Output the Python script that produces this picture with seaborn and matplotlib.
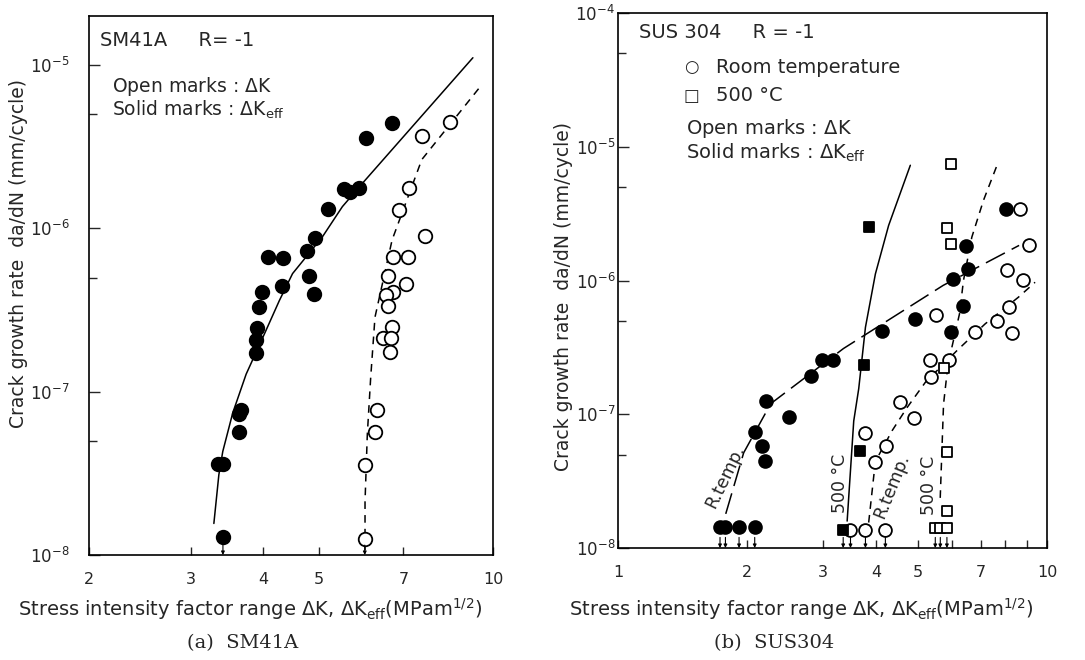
import numpy as np
import pandas as pd
import matplotlib
matplotlib.use("Agg")
import matplotlib.pyplot as plt
from matplotlib.ticker import FixedLocator, FixedFormatter, NullLocator, NullFormatter
import seaborn as sns

sns.set_style("ticks")
plt.rcParams['font.family'] = ['DejaVu Sans']
plt.rcParams['mathtext.fontset'] = 'dejavusans'

# ---------------- (a) SM41A ----------------
a_solid_dk = [6.69, 6.02, 5.53, 5.65, 5.86, 5.19, 4.92, 4.76, 4.08, 4.34, 4.80, 4.32,
              3.98, 4.91, 3.93, 3.91, 3.89, 3.89, 3.67, 3.63, 3.63, 3.35, 3.41, 3.41]
a_solid_rate = [4.45e-6, 3.59e-6, 1.74e-6, 1.66e-6, 1.78e-6, 1.31e-6, 8.8e-7, 7.3e-7,
                6.7e-7, 6.6e-7, 5.1e-7, 4.46e-7, 4.06e-7, 3.94e-7, 3.29e-7, 2.46e-7,
                2.08e-7, 1.72e-7, 7.7e-8, 7.3e-8, 5.7e-8, 3.6e-8, 3.6e-8, 1.28e-8]
a_open_dk = [8.41, 7.54, 7.17, 6.89, 7.64, 6.72, 7.12, 6.59, 7.06, 6.72, 6.54, 6.59,
             6.68, 6.45, 6.66, 6.63, 6.31, 6.25, 6.00, 6.00]
a_open_rate = [4.5e-6, 3.67e-6, 1.78e-6, 1.30e-6, 9.0e-7, 6.7e-7, 6.7e-7, 5.1e-7,
               4.59e-7, 4.07e-7, 3.93e-7, 3.37e-7, 2.48e-7, 2.12e-7, 2.12e-7, 1.74e-7,
               7.7e-8, 5.7e-8, 3.57e-8, 1.26e-8]
a_solid_arrow_dk = [3.41]
a_open_arrow_dk = [6.00]
# fitted curves
a_keff_curve_dk = [3.289, 3.355, 3.408, 3.546, 3.740, 4.023, 4.270, 4.500, 5.069, 5.488, 5.983, 9.23]
a_keff_curve_rate = [1.56e-8, 3.1e-8, 4.31e-8, 7.42e-8, 1.28e-7, 2.26e-7, 3.62e-7, 5.29e-7,
                     8.89e-7, 1.36e-6, 1.94e-6, 1.11e-5]
a_k_curve_dk = [6.006, 6.006, 6.061, 6.143, 6.249, 6.69, 7.53, 9.48]
a_k_curve_rate = [1.07e-8, 2.12e-8, 5.47e-8, 1.22e-7, 2.86e-7, 8.5e-7, 2.64e-6, 7.3e-6]
a_xticks = [2, 3, 4, 5, 7, 10]
a_xticklabels = ["2", "3", "4", "5", "7", "10"]

# ---------------- (b) SUS304 ----------------
b_rt_solid_dk = [1.729, 1.780, 1.915, 2.083, 2.083, 2.170, 2.197, 2.217, 2.502, 2.811,
                 2.992, 3.174, 4.127, 4.923, 5.970, 6.368, 6.035, 6.561, 6.480, 8.017]
b_rt_solid_rate = [1.44e-8, 1.44e-8, 1.44e-8, 1.44e-8, 7.39e-8, 5.81e-8, 4.48e-8, 1.26e-7,
                   9.6e-8, 1.94e-7, 2.55e-7, 2.55e-7, 4.17e-7, 5.16e-7, 4.1e-7, 6.5e-7,
                   1.02e-6, 1.22e-6, 1.80e-6, 3.44e-6]
b_rt_open_dk = [8.655, 9.096, 8.062, 8.780, 5.511, 8.174, 7.638, 6.80, 8.28, 5.346, 5.895,
                5.37, 4.539, 4.898, 3.759, 4.211, 3.981, 3.483, 3.774, 4.20]
b_rt_open_rate = [3.44e-6, 1.85e-6, 1.19e-6, 1.01e-6, 5.53e-7, 6.3e-7, 5.0e-7, 4.1e-7,
                  4.06e-7, 2.55e-7, 2.55e-7, 1.91e-7, 1.24e-7, 9.4e-8, 7.18e-8, 5.75e-8,
                  4.43e-8, 1.36e-8, 1.36e-8, 1.36e-8]
b_500_solid_dk = [3.840, 3.740, 3.674, 3.349]
b_500_solid_rate = [2.51e-6, 2.35e-7, 5.27e-8, 1.36e-8]
b_500_open_dk = [5.97, 5.844, 5.98, 5.761, 5.844, 5.844, 5.49, 5.64, 5.844]
b_500_open_rate = [7.48e-6, 2.48e-6, 1.88e-6, 2.2e-7, 5.18e-8, 1.89e-8, 1.40e-8, 1.40e-8, 1.40e-8]
b_arrow_dk = [1.729, 1.780, 1.915, 2.083, 3.349, 3.483, 3.774, 4.20, 5.49, 5.64, 5.844]
# curves
b_rt_keff_dk = [1.783, 1.963, 2.27, 3.354, 5.73, 8.61]
b_rt_keff_rate = [1.8e-8, 5.15e-8, 1.2e-7, 3.1e-7, 9.2e-7, 1.83e-6]
b_500_keff_dk = [3.421, 3.544, 3.640, 3.774, 3.981, 4.274, 4.802]
b_500_keff_rate = [1.59e-8, 8.9e-8, 1.55e-7, 4.47e-7, 1.12e-6, 2.58e-6, 7.27e-6]
b_rt_k_dk = [3.84, 3.98, 4.353, 4.717, 5.203, 6.166, 7.175, 8.577, 9.38]
b_rt_k_rate = [1.55e-8, 4.43e-8, 7.52e-8, 1.12e-7, 1.73e-7, 2.99e-7, 4.74e-7, 7.5e-7, 9.7e-7]
b_500_k_dk = [5.638, 5.739, 5.844, 6.002, 6.252, 6.387, 6.68, 7.11, 7.70]
b_500_k_rate = [2.37e-8, 1.19e-7, 2.0e-7, 3.17e-7, 5.63e-7, 1.0e-6, 2.11e-6, 3.97e-6, 7.7e-6]
b_xticks = [1, 2, 3, 4, 5, 7, 10]
b_xticklabels = ["1", "2", "3", "4", "5", "7", "10"]

ylabel = "Crack growth rate  da/dN (mm/cycle)"
xlabel = r"Stress intensity factor range $\Delta$K, $\Delta$K$_{\rm eff}$(MPam$^{1/2}$)"

fig = plt.figure(figsize=(10.85, 6.6), dpi=100)
axA = fig.add_axes([89/1085, 1-555/660, 404/1085, 539/660])
axB = fig.add_axes([618/1085, 1-548/660, 429/1085, 535/660])


def curve(ax, x, y, ls):
    sns.lineplot(x=x, y=y, ax=ax, color='black', lw=1.1, sort=False, estimator=None,
                 linestyle=ls, zorder=2)


def pts(ax, x, y, marker, s, filled):
    sns.scatterplot(x=x, y=y, ax=ax, marker=marker, s=s,
                    color='black' if filled else 'white', edgecolor='black',
                    linewidth=1.3, zorder=3, legend=False)


def arrows(ax, xs, y0=1.18e-8):
    for xv in xs:
        ax.annotate('', xy=(xv, 1.0e-8), xytext=(xv, y0),
                    arrowprops=dict(arrowstyle='-|>', color='black', lw=0.8,
                                    mutation_scale=5, shrinkA=0, shrinkB=0), zorder=4)


def style_axis(ax, xlim, ylim, xt, xtl, ymaj, ymin, ypad, xminor=None):
    ax.set_xscale('log')
    ax.set_yscale('log')
    ax.set_xlim(*xlim)
    ax.set_ylim(*ylim)
    ax.xaxis.set_major_locator(FixedLocator(xt))
    ax.xaxis.set_major_formatter(FixedFormatter(xtl))
    if xminor:
        ax.xaxis.set_minor_locator(FixedLocator(xminor))
    else:
        ax.xaxis.set_minor_locator(NullLocator())
    ax.xaxis.set_minor_formatter(NullFormatter())
    ax.yaxis.set_major_locator(FixedLocator(ymaj))
    ax.yaxis.set_major_formatter(FixedFormatter([r"$10^{%d}$" % int(round(np.log10(v))) for v in ymaj]))
    ax.yaxis.set_minor_locator(FixedLocator(ymin))
    ax.yaxis.set_minor_formatter(NullFormatter())
    ax.tick_params(axis='x', which='both', direction='in', length=6, width=1.0,
                   labelsize=11.5, pad=12, top=False)
    ax.tick_params(axis='y', which='major', direction='in', length=8, width=1.0,
                   labelsize=12, pad=ypad, right=False)
    ax.tick_params(axis='y', which='minor', direction='in', length=6, width=1.0, right=False)
    for sp in ax.spines.values():
        sp.set_visible(True)
        sp.set_linewidth(1.2)
        sp.set_color('black')
    ax.set_xlabel(xlabel, fontsize=14)
    ax.set_ylabel(ylabel, fontsize=13.5)


# ---- panel a ----
curve(axA, a_keff_curve_dk, a_keff_curve_rate, '-')
curve(axA, a_k_curve_dk, a_k_curve_rate, (0, (5, 4)))
pts(axA, a_open_dk, a_open_rate, 'o', 95, False)
pts(axA, a_solid_dk, a_solid_rate, 'o', 95, True)
arrows(axA, a_solid_arrow_dk + a_open_arrow_dk, 1.15e-8)
style_axis(axA, (2, 10), (1e-8, 2e-5), a_xticks, a_xticklabels,
           [1e-8, 1e-7, 1e-6, 1e-5], [5e-8, 5e-7, 5e-6], 14)
axA.yaxis.set_label_coords(-0.15, 0.56)
axA.xaxis.set_label_coords(0.40, -0.076)
axA.text(0.027, 0.955, "SM41A     R= -1", transform=axA.transAxes, fontsize=14, va='center')
axA.text(0.056, 0.869, r"Open marks : $\Delta$K", transform=axA.transAxes, fontsize=13.5, va='center')
axA.text(0.056, 0.826, r"Solid marks : $\Delta$K$_{\rm eff}$", transform=axA.transAxes,
         fontsize=13.5, va='center')

# ---- panel b ----
curve(axB, b_rt_keff_dk, b_rt_keff_rate, (0, (14, 5)))
curve(axB, b_500_keff_dk, b_500_keff_rate, '-')
curve(axB, b_rt_k_dk, b_rt_k_rate, (0, (5, 4)))
curve(axB, b_500_k_dk, b_500_k_rate, (0, (5, 4)))
pts(axB, b_rt_open_dk, b_rt_open_rate, 'o', 85, False)
pts(axB, b_500_open_dk, b_500_open_rate, 's', 50, False)
pts(axB, b_rt_solid_dk, b_rt_solid_rate, 'o', 85, True)
pts(axB, b_500_solid_dk, b_500_solid_rate, 's', 45, True)
arrows(axB, b_arrow_dk, 1.2e-8)
style_axis(axB, (1, 10), (1e-8, 1e-4), b_xticks, b_xticklabels,
           [1e-8, 1e-7, 1e-6, 1e-5, 1e-4], [5e-8, 5e-7, 5e-6, 5e-5], 2, xminor=[6, 8, 9])
axB.yaxis.set_label_coords(-0.105, 0.47)
axB.xaxis.set_label_coords(0.427, -0.09)
axB.text(0.049, 0.963, "SUS 304     R = -1", transform=axB.transAxes, fontsize=14, va='center')
axB.text(0.17, 0.899, "\u25cb", transform=axB.transAxes, fontsize=12, va='center', ha='center')
axB.text(0.228, 0.899, "Room temperature", transform=axB.transAxes, fontsize=14, va='center')
axB.text(0.17, 0.845, "\u25a1", transform=axB.transAxes, fontsize=12, va='center', ha='center')
axB.text(0.228, 0.845, "500 \u00b0C", transform=axB.transAxes, fontsize=14, va='center')
axB.text(0.158, 0.785, r"Open marks : $\Delta$K", transform=axB.transAxes, fontsize=14, va='center')
axB.text(0.158, 0.738, r"Solid marks : $\Delta$K$_{\rm eff}$", transform=axB.transAxes,
         fontsize=14, va='center')
axB.text(1.78, 3.46e-8, "R.temp.", rotation=64, fontsize=12.5, ha='center', va='center')
axB.text(3.289, 3.04e-8, "500 \u00b0C", rotation=90, fontsize=12.5, ha='center', va='center')
axB.text(4.353, 2.91e-8, "R.temp.", rotation=68, fontsize=12.5, ha='center', va='center')
axB.text(5.297, 2.96e-8, "500 \u00b0C", rotation=90, fontsize=12.5, ha='center', va='center')

fig.text(243/1085, 1-643/660, "(a)  SM41A", fontsize=14, ha='center', va='center',
         family='DejaVu Serif')
fig.text(774/1085, 1-643/660, "(b)  SUS304", fontsize=14, ha='center', va='center',
         family='DejaVu Serif')

fig.savefig("out.png", dpi=100, facecolor='white')
